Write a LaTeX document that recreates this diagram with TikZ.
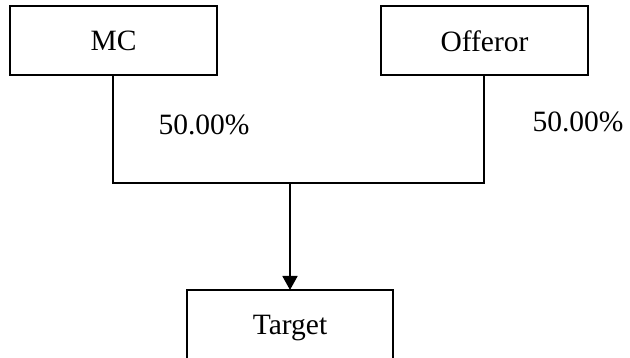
\documentclass[tikz,border=0pt]{standalone}
\usepackage{fontspec}
\setmainfont{Liberation Serif}
\usetikzlibrary{arrows.meta}
\begin{document}
\begin{tikzpicture}[x=1pt,y=-1pt,
  box/.style={draw, line width=1.8pt, inner sep=0pt},
  conn/.style={line width=1.8pt},
  lbl/.style={font=\fontsize{29.5}{33}\selectfont, inner sep=0pt}]
\useasboundingbox (0,0) rectangle (630,358);
\clip (0,0) rectangle (630,358);
\draw[box] (10,6) rectangle (217,75);
\node[lbl] (mc) at (113.5,41) {MC};
\draw[box] (381,6) rectangle (588,75);
\node[lbl] (off) at (484.5,41) {Offeror};
\draw[box] (187,290) rectangle (393,372);
\node[lbl, anchor=base] (tgt) at (290,335) {Target};
\coordinate (mcb) at (113,75);
\coordinate (offb) at (484,75);
\coordinate (jl) at (113,183);
\coordinate (jr) at (484,183);
\coordinate (jm) at (290,183);
\coordinate (tt) at (290,290);
\draw[conn] (mcb) -- (jl) -- (jr) -- (offb);
\draw[conn, -{Triangle[width=15pt,length=14pt]}] (jm) -- (tt);
\node[lbl, anchor=base] (p1) at (204,135) {50.00\%};
\node[lbl, anchor=base] (p2) at (578,132) {50.00\%};
\end{tikzpicture}
\end{document}
